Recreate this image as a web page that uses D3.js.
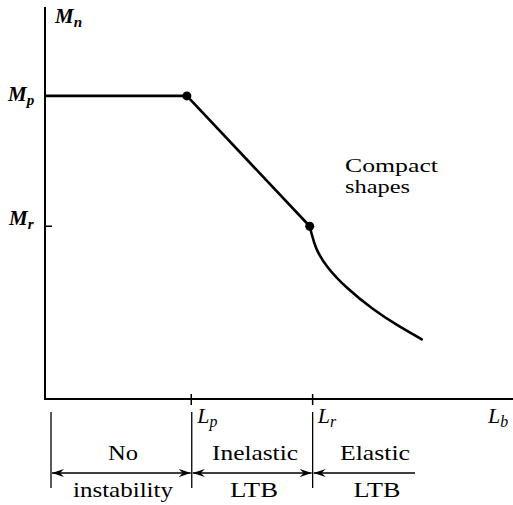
<!DOCTYPE html>
<html><head><meta charset="utf-8">
<script src="https://cdn.jsdelivr.net/npm/d3@7"></script>
<style>
html,body{margin:0;padding:0;background:#fff;}
svg{display:block;}
</style></head>
<body>
<svg id="chart" width="513" height="505" font-family="'Liberation Serif', 'Times New Roman', 'DejaVu Serif', serif"></svg>
<script>
// ---- data (Lb in arbitrary length units, Mn in % of Mp) ----
const Mp = 100;
const Mr = 57;
const Lp = 10;
const Lr = 18.3;
// plastic plateau and inelastic straight line (knot points)
const plateauLb = [0, 9.7];
const plateauMn = [100, 100];
const inelasticLb = [9.7, 18.1];
const inelasticMn = [100, 57];
// elastic LTB curve
const elasticLb = [18.1, 18.2, 18.5, 19.2, 20.6, 22.45, 24.05, 25.76];
const elasticMn = [57, 55.0, 49.6, 43.8, 36.6, 29.4, 24.4, 19.7];
const dotLb = [9.7, 18.1];
const dotMn = [100, 57];
// zone labels
const zoneTop = ["No", "Inelastic", "Elastic"];
const zoneBottom = ["instability", "LTB", "LTB"];
const noteLines = ["Compact", "shapes"];

const svg = d3.select("#chart");
const FONT = "'Liberation Serif', 'Times New Roman', 'DejaVu Serif', serif";
const x = d3.scaleLinear().domain([0, 32]).range([45, 513]);
const y = d3.scaleLinear().domain([0, 130]).range([399, 5]);

// axes
svg.append("line").attr("x1", x(0)).attr("x2", x(0)).attr("y1", y(130)+2).attr("y2", y(0)+1)
  .attr("stroke", "#000").attr("stroke-width", 2);
svg.append("line").attr("x1", x(0)-1).attr("x2", 513).attr("y1", y(0)).attr("y2", y(0))
  .attr("stroke", "#000").attr("stroke-width", 2);

// y ticks
[Mp, Mr].forEach(v => {
  svg.append("line").attr("x1", x(0)).attr("x2", x(0)+7).attr("y1", y(v)).attr("y2", y(v))
    .attr("stroke", "#000").attr("stroke-width", 1.5);
});
// x ticks
[Lp, Lr].forEach(v => {
  svg.append("line").attr("x1", x(v)).attr("x2", x(v)).attr("y1", y(0)-5).attr("y2", y(0)+6)
    .attr("stroke", "#000").attr("stroke-width", 1.5);
});

// curve
const lineGen = d3.line().x(d => x(d[0])).y(d => y(d[1]));
const straight = plateauLb.map((v,i)=>[v, plateauMn[i]])
  .concat(inelasticLb.slice(1).map((v,i)=>[v, inelasticMn[i+1]]));
svg.append("path").attr("d", lineGen(straight)).attr("fill", "none")
  .attr("stroke", "#000").attr("stroke-width", 2.6).attr("stroke-linejoin", "round");
const elastic = elasticLb.map((v,i)=>[v, elasticMn[i]]);
svg.append("path").attr("d", d3.line().x(d => x(d[0])).y(d => y(d[1])).curve(d3.curveBasis)(elastic)).attr("fill", "none")
  .attr("stroke", "#000").attr("stroke-width", 2.6).attr("stroke-linecap", "round");
svg.selectAll("circle.dot").data(dotLb.map((v,i)=>[v, dotMn[i]])).enter().append("circle")
  .attr("cx", d => x(d[0])).attr("cy", d => y(d[1])).attr("r", 4.5).attr("fill", "#000");

// axis labels with subscripts
function subLabel(px, py, main, sub, bold, size) {
  const t = svg.append("text").attr("x", px).attr("y", py).attr("font-family", FONT)
    .attr("font-size", size).attr("font-style", "italic").attr("font-weight", bold ? "bold" : "normal");
  t.append("tspan").text(main);
  t.append("tspan").text(sub).attr("font-size", size*0.72).attr("dy", 4);
}
subLabel(x(0)+10, 23, "M", "n", true, 21);
subLabel(8, y(Mp)+5, "M", "p", true, 21);
subLabel(9, y(Mr)-1, "M", "r", true, 21);
subLabel(x(Lp)+6, 423, "L", "p", false, 22);
subLabel(x(Lr)+5, 423, "L", "r", false, 22);
subLabel(488, 423, "L", "b", false, 22);

// Compact shapes
const noteW = [93, 65];
noteLines.forEach((s,i) => {
  svg.append("text").attr("x", 345).attr("y", 172 + i*21).attr("font-size", 19).attr("font-family", FONT)
    .attr("textLength", noteW[i]).attr("lengthAdjust", "spacingAndGlyphs").text(s);
});

// zone dividers
const divX = [x(0)+6, x(Lp)+0.5, x(Lr)];
divX.forEach(px => {
  svg.append("line").attr("x1", px).attr("x2", px).attr("y1", 412).attr("y2", 488)
    .attr("stroke", "#000").attr("stroke-width", 1.3);
});

// arrow markers
const defs = svg.append("defs");
defs.append("marker").attr("id", "ah").attr("viewBox", "0 -5 13 10")
  .attr("refX", 12).attr("refY", 0).attr("markerWidth", 13).attr("markerHeight", 10)
  .attr("markerUnits", "userSpaceOnUse").attr("orient", "auto-start-reverse")
  .append("path").attr("d", "M12,0 L0,-4 L4,0 L0,4 Z").attr("fill", "#000");

const arrowY = 473;
svg.append("line").attr("x1", divX[0]+1).attr("x2", divX[1]-1).attr("y1", arrowY).attr("y2", arrowY)
  .attr("stroke", "#000").attr("stroke-width", 1.3)
  .attr("marker-start", "url(#ah)").attr("marker-end", "url(#ah)");
svg.append("line").attr("x1", divX[1]+1).attr("x2", divX[2]-1).attr("y1", arrowY).attr("y2", arrowY)
  .attr("stroke", "#000").attr("stroke-width", 1.3)
  .attr("marker-start", "url(#ah)").attr("marker-end", "url(#ah)");
svg.append("line").attr("x1", divX[2]+1).attr("x2", 415).attr("y1", arrowY).attr("y2", arrowY)
  .attr("stroke", "#000").attr("stroke-width", 1.3)
  .attr("marker-start", "url(#ah)");

const topCx = [123, 255, 375];
const topW = [30, 86, 70];
const botCx = [123, 254, 377];
const botW = [100, 48, 47];
zoneTop.forEach((s,i) => {
  svg.append("text").attr("x", topCx[i]-topW[i]/2).attr("y", 460).attr("font-size", 22).attr("font-family", FONT)
    .attr("textLength", topW[i]).attr("lengthAdjust", "spacingAndGlyphs").text(s);
});
zoneBottom.forEach((s,i) => {
  svg.append("text").attr("x", botCx[i]-botW[i]/2).attr("y", 497).attr("font-size", 22).attr("font-family", FONT)
    .attr("textLength", botW[i]).attr("lengthAdjust", "spacingAndGlyphs").text(s);
});
</script>
</body></html>
